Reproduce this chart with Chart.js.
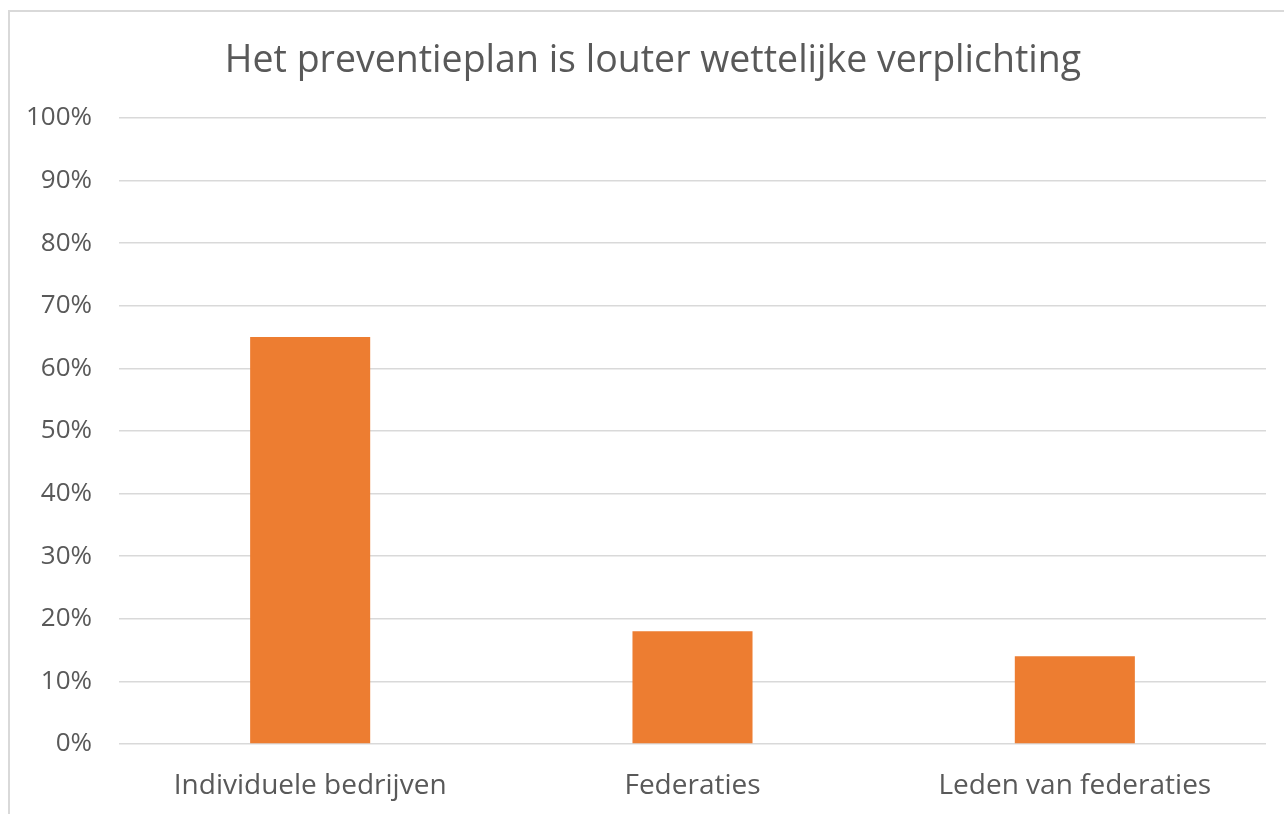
<!DOCTYPE html>
<html>
<head>
<meta charset="utf-8">
<script src="https://cdn.jsdelivr.net/npm/chart.js@4"></script>
<style>
  html, body { margin: 0; padding: 0; background: #fff; overflow: hidden; }
  .kader {
    position: absolute; left: 8px; top: 10px;
    width: 1290px; height: 812px;
    border: 2px solid #d9d9d9; box-sizing: border-box;
  }
  .kader canvas { display: block; }
</style>
</head>
<body>
<div class="kader">
  <canvas id="grafiek" width="1286" height="808"></canvas>
</div>
<script>
// gegevens van de grafiek
const titel = "Het preventieplan is louter wettelijke verplichting";
const categorieen = ["Individuele bedrijven", "Federaties", "Leden van federaties"];
const waarden = [65, 18, 14];

const tekstKleur = "#595959";
const lettertype = "'Open Sans', Lato, sans-serif";

// de y-as labels mogen buiten de linker padding vallen (anders wordt "100%" afgeknipt)
const asLabelsVrij = {
  id: "asLabelsVrij",
  afterLayout: function(chart){
    chart.scales.y.left = 0;
  }
};

new Chart("grafiek", {
  type: "bar",
  data: {
    labels: categorieen,
    datasets: [{
      data: waarden,
      backgroundColor: "#ED7D31",
      borderWidth: 0,
      categoryPercentage: 1,
      barPercentage: 0.314
    }]
  },
  plugins: [asLabelsVrij],
  options: {
    responsive: false,
    animation: false,
    // links en rechts gelijk, zodat de titel midden in het kader staat
    layout: { padding: { left: 30, right: 30, top: 0, bottom: 0 } },
    plugins: {
      legend: { display: false },
      tooltip: { enabled: false },
      title: {
        display: true,
        text: titel,
        color: tekstKleur,
        font: { family: lettertype, size: 37.5, weight: "normal" },
        padding: { top: 27, bottom: 34 }
      }
    },
    scales: {
      x: {
        grid: { display: false, drawTicks: false },
        border: { display: false },
        ticks: {
          color: tekstKleur,
          font: { family: lettertype, size: 28 },
          padding: 25
        },
        afterFit: function(as){ as.height = 76; }
      },
      y: {
        min: 0,
        max: 100,
        grid: { color: "#d9d9d9", lineWidth: 1.5, drawTicks: false },
        border: { display: false },
        ticks: {
          stepSize: 10,
          color: tekstKleur,
          font: { family: lettertype, size: 26 },
          padding: 27,
          callback: function(v){ return v + "%"; }
        },
        afterFit: function(as){ as.width = 79; }
      }
    }
  }
});
</script>
</body>
</html>
